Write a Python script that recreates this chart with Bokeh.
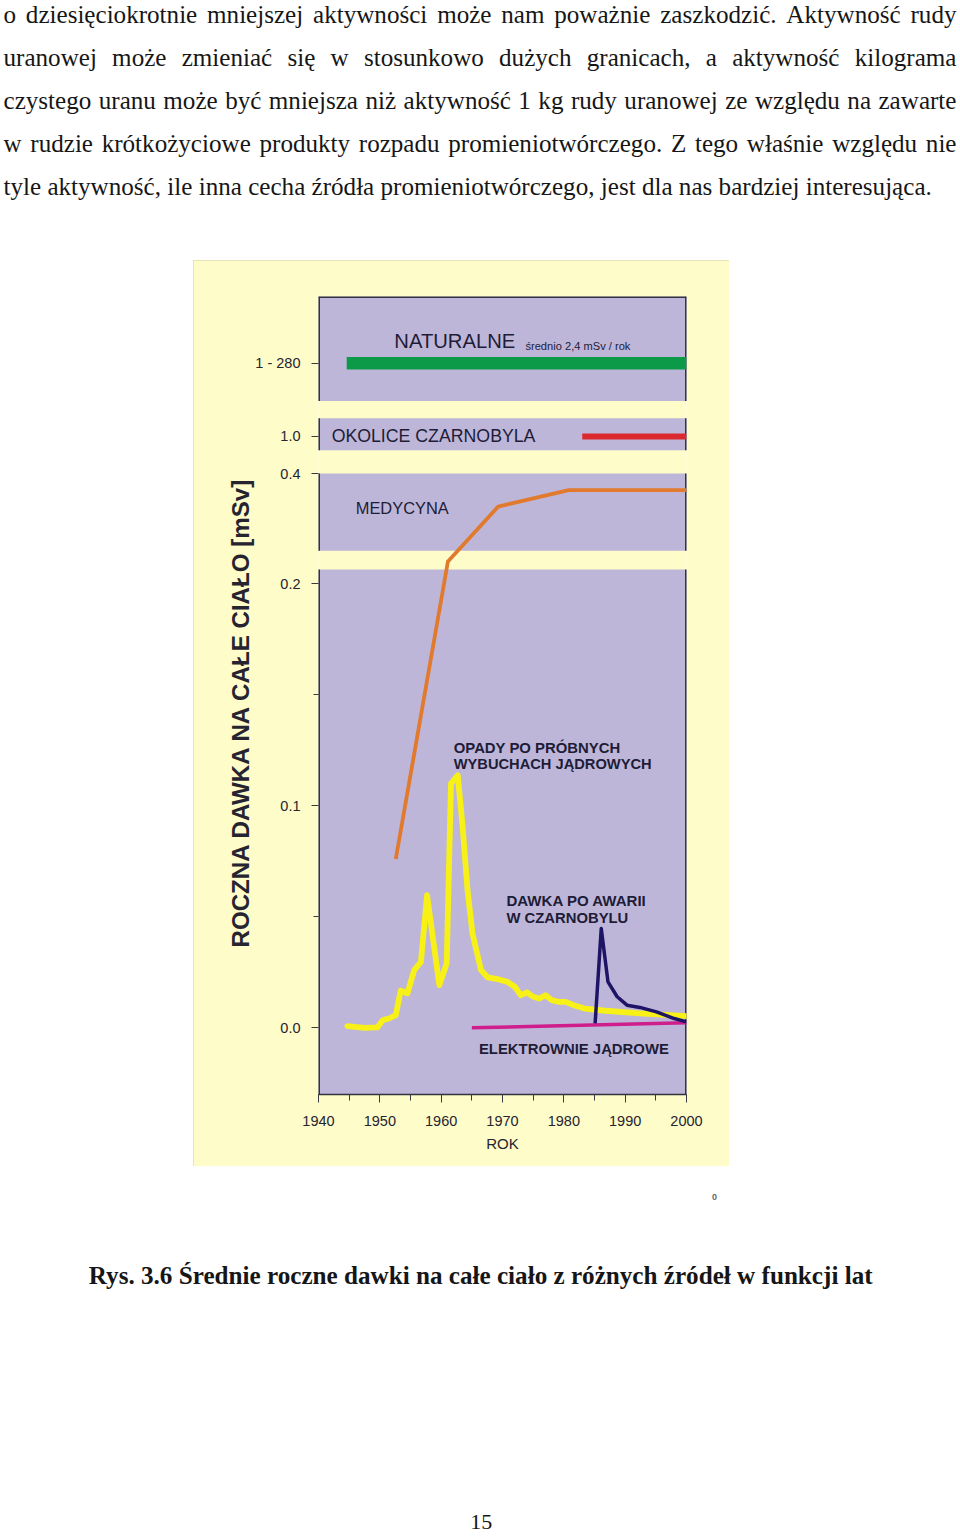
import os
import struct
import subprocess

from bokeh.plotting import figure
from bokeh.models import Range1d, FixedTicker, SingleIntervalTicker, Spacer, Title
from bokeh.layouts import column, row
from bokeh.core.properties import value
from bokeh.embed import file_html
from bokeh.resources import INLINE

# ---------------------------------------------------------------- data
para_lines = [
    "o dziesięciokrotnie mniejszej aktywności może nam poważnie zaszkodzić. Aktywność rudy",
    "uranowej może zmieniać się w stosunkowo dużych granicach, a aktywność kilograma",
    "czystego uranu może być mniejsza niż aktywność 1 kg rudy uranowej ze względu na zawarte",
    "w rudzie krótkożyciowe produkty rozpadu promieniotwórczego. Z tego właśnie względu nie",
    "tyle aktywność, ile inna cecha źródła promieniotwórczego, jest dla nas bardziej interesująca.",
]
caption = "Rys. 3.6 Średnie roczne dawki na całe ciało z różnych źródeł w funkcji lat"
page_number = "15"
image_note = "0"

# fallout after nuclear weapon tests (mSv)
fallout_years = [1944.7, 1947.5, 1949.6, 1950.5, 1951.5, 1952.6, 1953.4, 1954.5, 1955.6,
                 1956.7, 1957.7, 1959.7, 1960.9, 1961.6, 1962.7, 1963.5, 1964.3, 1965.1,
                 1966.5, 1967.6, 1969.4, 1970.8, 1972.0, 1973.0, 1974.0, 1975.0, 1976.0,
                 1977.0, 1978.0, 1979.2, 1980.3, 1981.6, 1983.4, 1986.8, 1992.4, 2000.0]
fallout_dose = [0.0008, 0.0000, 0.0002, 0.0035, 0.0042, 0.0057, 0.0167, 0.0155, 0.0260,
                0.0297, 0.0597, 0.0192, 0.0290, 0.1100, 0.1137, 0.0905, 0.0620, 0.0425,
                0.0260, 0.0227, 0.0218, 0.0207, 0.0185, 0.0147, 0.0160, 0.0140, 0.0132,
                0.0147, 0.0125, 0.0117, 0.0117, 0.0102, 0.0087, 0.0077, 0.0065, 0.0053]

# medicine (mSv)
medical_years = [1952.6, 1961.1, 1969.3, 1980.8, 2000.0]
medical_dose = [0.076, 0.240, 0.340, 0.370, 0.370]

# Chernobyl accident dose (mSv)
chernobyl_years = [1985.1, 1986.1, 1987.2, 1988.7, 1990.3, 1992.4, 1995.1, 1998.0, 2000.0]
chernobyl_dose = [0.0020, 0.0447, 0.0207, 0.0140, 0.0102, 0.0092, 0.0072, 0.0042, 0.0027]

# nuclear power plants (mSv)
power_years = [1965.0, 2000.0]
power_dose = [0.0000, 0.0023]

# natural background band and Chernobyl vicinity band
natural_years = [1944.6, 2000.0]
vicinity_years = [1983.0, 2000.0]

y_tick_values = [0.0, 0.1, 0.2, 0.4]
y_tick_labels = ["0.0", "0.1", "0.2", "0.4", "1.0", "1 - 280"]
y_minor_values = [0.05, 0.15]

# ---------------------------------------------------------------- broken axis scale
BREAK = 0.2           # above this the scale is compressed
UPPER_FACTOR = 0.2475
POS_VICINITY = 0.2662  # band "1.0"
POS_NATURAL = 0.2992   # band "1 - 280"


def ypos(v):
    return v if v <= BREAK else BREAK + (v - BREAK) * UPPER_FACTOR


# panels of the broken axis (in axis units)
panel_bottoms = [-0.0300, 0.2147, 0.2600, 0.2822]
panel_tops = [0.2063, 0.2495, 0.2744, 0.3292]
Y0, Y1 = -0.0300, 0.3292
FRAME_H = 798
UNIT_PER_PX = (Y1 - Y0) / FRAME_H


# ---------------------------------------------------------------- font metrics
def find_font(fname, family):
    roots = ["/usr/share/fonts", "/usr/local/share/fonts",
             os.path.expanduser("~/.fonts"), os.path.expanduser("~/.local/share/fonts")]
    for r in roots:
        if not os.path.isdir(r):
            continue
        for dp, dn, fns in os.walk(r):
            for f in fns:
                if f.lower() == fname.lower():
                    return os.path.join(dp, f)
    try:
        out = subprocess.run(["fc-match", "-f", "%{file}", family], capture_output=True,
                             text=True, timeout=10).stdout.strip()
        if out and os.path.exists(out):
            return out
    except Exception:
        pass
    return None


class FontMetrics:
    def __init__(self, path):
        d = open(path, "rb").read()
        self.d = d
        num = struct.unpack(">H", d[4:6])[0]
        t = {}
        for i in range(num):
            o = 12 + 16 * i
            tag = d[o:o + 4].decode("latin-1")
            _cs, off, _ln = struct.unpack(">III", d[o + 4:o + 16])
            t[tag] = off
        self.upem = struct.unpack(">H", d[t["head"] + 18:t["head"] + 20])[0]
        nh = struct.unpack(">H", d[t["hhea"] + 34:t["hhea"] + 36])[0]
        hm = t["hmtx"]
        self.adv = [struct.unpack(">H", d[hm + 4 * i:hm + 4 * i + 2])[0] for i in range(nh)]
        cm = t["cmap"]
        n = struct.unpack(">H", d[cm + 2:cm + 4])[0]
        sub = None
        for i in range(n):
            pid, eid, off = struct.unpack(">HHI", d[cm + 4 + 8 * i:cm + 12 + 8 * i])
            fmt = struct.unpack(">H", d[cm + off:cm + off + 2])[0]
            if fmt == 4 and ((pid == 3 and eid == 1) or pid == 0):
                sub = cm + off
                if pid == 3:
                    break
        seg2 = struct.unpack(">H", d[sub + 6:sub + 8])[0]
        ns = seg2 // 2
        self.ns = ns
        self.ends = struct.unpack(">%dH" % ns, d[sub + 14:sub + 14 + seg2])
        so = sub + 16 + seg2
        self.starts = struct.unpack(">%dH" % ns, d[so:so + seg2])
        do = so + seg2
        self.deltas = struct.unpack(">%dh" % ns, d[do:do + seg2])
        self.ro = do + seg2
        self.ros = struct.unpack(">%dH" % ns, d[self.ro:self.ro + seg2])

    def gid(self, ch):
        c = ord(ch)
        for i in range(self.ns):
            if self.ends[i] >= c:
                if self.starts[i] > c:
                    return 0
                if self.ros[i] == 0:
                    return (c + self.deltas[i]) & 0xFFFF
                a = self.ro + 2 * i + self.ros[i] + 2 * (c - self.starts[i])
                g = struct.unpack(">H", self.d[a:a + 2])[0]
                return 0 if g == 0 else (g + self.deltas[i]) & 0xFFFF
        return 0

    def em(self, text):
        tot = 0
        for ch in text:
            g = self.gid(ch)
            tot += self.adv[g] if g < len(self.adv) else self.adv[-1]
        return tot / self.upem


class ApproxMetrics:
    def __init__(self, avg):
        self.avg = avg

    def em(self, text):
        return self.avg * len(text)


def load_metrics(fname, family, avg):
    try:
        path = find_font(fname, family)
        if path:
            return FontMetrics(path)
    except Exception:
        pass
    return ApproxMetrics(avg)


serif = load_metrics("LiberationSerif-Regular.ttf", "Liberation Serif", 0.39)
serif_bold = load_metrics("LiberationSerif-Bold.ttf", "Liberation Serif:bold", 0.42)
sans = load_metrics("LiberationSans-Regular.ttf", "Liberation Sans", 0.6)
sans_bold = load_metrics("LiberationSans-Bold.ttf", "Liberation Sans:bold", 0.65)


def fit(metrics, text, width, lo, hi):
    try:
        s = width / metrics.em(text)
    except Exception:
        s = (lo + hi) / 2
    return max(lo, min(hi, s))


def px(s):
    return "%.2fpx" % s


SERIF_MID = 0.3375   # baseline -> middle offset, in em
SANS_MID = 0.3465

TEXT = "#161616"
CHART_TEXT = "#1e1c36"
YELLOW_BG = "#fefcc9"
LAVENDER = "#bdb6d9"

# ---------------------------------------------------------------- top paragraph
W = 960
HA = 260
pa = figure(width=W, height=HA, x_range=Range1d(0, W), y_range=Range1d(HA, 0),
            output_backend="svg", toolbar_location=None, min_border=0)
pa.axis.visible = False
pa.grid.visible = False
pa.outline_line_color = None
pa.background_fill_color = "white"
pa.border_fill_color = "white"

PARA_LEFT, PARA_RIGHT = 3.0, 956.0
para_size = fit(serif, para_lines[-1], 933, 20, 26) * 0.995
space_w = serif.em(" ") * para_size
baselines = [22.0, 65.0, 108.0, 151.0, 194.0]
wx, wy, wt = [], [], []
for li, line in enumerate(para_lines):
    words = line.split(" ")
    widths = [serif.em(w) * para_size for w in words]
    if li < len(para_lines) - 1 and len(words) > 1:
        gap = (PARA_RIGHT - PARA_LEFT - sum(widths)) / (len(words) - 1)
        gap = max(gap, space_w * 0.6)
    else:
        gap = space_w
    x = PARA_LEFT
    for w, wd in zip(words, widths):
        wx.append(x)
        wy.append(baselines[li] - SERIF_MID * para_size)
        wt.append(w)
        x += wd + gap
pa.text(x=wx, y=wy, text=wt, text_font=value("Liberation Serif"), text_font_size=px(para_size),
        text_color=TEXT, text_align="left", text_baseline="middle")

# ---------------------------------------------------------------- chart
pb = figure(width=536, height=906, x_range=Range1d(1940, 2000), y_range=Range1d(Y0, Y1),
            output_backend="svg", toolbar_location=None,
            min_border_left=125, min_border_right=43, min_border_top=36, min_border_bottom=72)
pb.styles = {"outline": "1px solid #dedbb2", "outline-offset": "-1px"}
pb.grid.visible = False
pb.outline_line_color = None
pb.background_fill_color = YELLOW_BG
pb.border_fill_color = YELLOW_BG

# panels
pb.quad(left=1940, right=2000, bottom=panel_bottoms, top=panel_tops,
        fill_color=LAVENDER, line_color=None)
pb.segment(x0=[1940] * 4 + [2000] * 4 + [1940], y0=panel_bottoms + panel_bottoms + [panel_tops[-1]],
           x1=[1940] * 4 + [2000] * 4 + [2000], y1=panel_tops + panel_tops + [panel_tops[-1]],
           line_color="#34323f", line_width=3)

# bands
pb.line(natural_years, [POS_NATURAL] * len(natural_years), line_color="#0c9a48", line_width=12.5,
        line_cap="butt")
pb.line(vicinity_years, [POS_VICINITY] * len(vicinity_years), line_color="#db2a2f", line_width=6,
        line_cap="butt")

# series
pb.line(medical_years, [ypos(v) for v in medical_dose], line_color="#e27a2e", line_width=3.8,
        line_join="round")
pb.line(fallout_years, [ypos(v) for v in fallout_dose], line_color="#f7f118", line_width=5.8,
        line_join="round", line_cap="round")
pb.line(power_years, [ypos(v) for v in power_dose], line_color="#cf1d8c", line_width=3.5)
pb.line(chernobyl_years, [ypos(v) for v in chernobyl_dose], line_color="#1d1466", line_width=3.5,
        line_join="round")

# annotations: text, left year, baseline (axis units), metrics, target width px, style, default size
labels = [
    ("NATURALNE", 1952.36, 0.3058, sans, 122.5, "normal", 20),
    ("średnio 2,4 mSv / rok", 1973.74, 0.3053, sans, 105, "normal", 11),
    ("OKOLICE CZARNOBYLA", 1942.14, 0.2637, sans, 204, "normal", 17.5),
    ("MEDYCYNA", 1946.07, 0.2315, sans, 93, "normal", 16.4),
    ("OPADY PO PRÓBNYCH", 1962.05, 0.1238, sans_bold, 168, "bold", 14.6),
    ("WYBUCHACH JĄDROWYCH", 1962.05, 0.1166, sans_bold, 198, "bold", 14.6),
    ("DAWKA PO AWARII", 1970.64, 0.0548, sans_bold, 143, "bold", 14.6),
    ("W CZARNOBYLU", 1970.64, 0.0473, sans_bold, 122, "bold", 14.6),
    ("ELEKTROWNIE JĄDROWE", 1966.16, -0.0118, sans_bold, 190, "bold", 14.6),
]
for txt, lx, ly, met, tw, style, dflt in labels:
    size = fit(met, txt, tw, dflt * 0.85, dflt * 1.15)
    pb.text(x=[lx], y=[ly + SANS_MID * size * UNIT_PER_PX], text=[txt],
            text_font=value("Liberation Sans"), text_font_size=px(size),
            text_font_style=style, text_color=CHART_TEXT, text_align="left",
            text_baseline="middle")

# axes
y_tick_pos = [ypos(v) for v in y_tick_values] + [POS_VICINITY, POS_NATURAL]
pb.yaxis.ticker = FixedTicker(ticks=y_tick_pos, minor_ticks=y_minor_values)
pb.yaxis.major_label_overrides = {p: lab for p, lab in zip(y_tick_pos, y_tick_labels)}
pb.yaxis.axis_line_color = None
pb.yaxis.major_tick_in = 0
pb.yaxis.major_tick_out = 7
pb.yaxis.minor_tick_in = 0
pb.yaxis.minor_tick_out = 5
pb.yaxis.major_tick_line_color = "#3a3840"
pb.yaxis.minor_tick_line_color = "#3a3840"
pb.yaxis.major_label_standoff = 11
pb.yaxis.major_label_text_font = "Liberation Sans"
pb.yaxis.major_label_text_font_size = "14.5px"
pb.yaxis.major_label_text_color = "#262430"

ylab = "ROCZNA DAWKA NA CAŁE CIAŁO [mSv]"
ytitle = Title(text=ylab, align="left", offset=147, standoff=-3,
               text_font="Liberation Sans", text_font_style="bold",
               text_font_size=px(fit(sans_bold, ylab, 472, 21, 26)), text_color="#262430")
pb.add_layout(ytitle, "left")

pb.xaxis.ticker = SingleIntervalTicker(interval=10, num_minor_ticks=2)
pb.xaxis.axis_line_color = "#34323f"
pb.xaxis.axis_line_width = 1.5
pb.xaxis.major_tick_in = 0
pb.xaxis.major_tick_out = 8
pb.xaxis.minor_tick_in = 0
pb.xaxis.minor_tick_out = 6
pb.xaxis.major_tick_line_color = "#3a3840"
pb.xaxis.minor_tick_line_color = "#3a3840"
pb.xaxis.major_label_standoff = 13
pb.xaxis.major_label_text_font = "Liberation Sans"
pb.xaxis.major_label_text_font_size = "14.5px"
pb.xaxis.major_label_text_color = "#262430"
pb.xaxis.axis_label = "ROK"
pb.xaxis.axis_label_text_font = "Liberation Sans"
pb.xaxis.axis_label_text_font_style = "normal"
pb.xaxis.axis_label_text_font_size = "15px"
pb.xaxis.axis_label_text_color = "#262430"
pb.xaxis.axis_label_standoff = 6

# ---------------------------------------------------------------- caption area
HC = 370
TOP_C = HA + 906
pc = figure(width=W, height=HC, x_range=Range1d(0, W), y_range=Range1d(HC, 0),
            output_backend="svg", toolbar_location=None, min_border=0)
pc.axis.visible = False
pc.grid.visible = False
pc.outline_line_color = None
pc.background_fill_color = "white"
pc.border_fill_color = "white"

cap_size = fit(serif_bold, caption, 786, 20, 26)
pc.text(x=[480.2], y=[1283 - TOP_C - SERIF_MID * cap_size], text=[caption],
        text_font=value("Liberation Serif"),
        text_font_size=px(cap_size), text_font_style="bold", text_color=TEXT,
        text_align="center", text_baseline="middle")
pc.text(x=[714], y=[1196.5 - TOP_C], text=[image_note], text_font=value("Liberation Sans"),
        text_font_size="9px", text_font_style="bold", text_color="#6a6a6a",
        text_align="center", text_baseline="middle")
pc.text(x=[480.8], y=[1529 - TOP_C - SERIF_MID * 22], text=[page_number],
        text_font=value("Liberation Serif"),
        text_font_size="22px", text_color=TEXT, text_align="center", text_baseline="middle")

layout = column(pa, row(Spacer(width=193, height=906), pb, Spacer(width=231, height=906)), pc)

open("out.html", "w").write(file_html(layout, INLINE))
